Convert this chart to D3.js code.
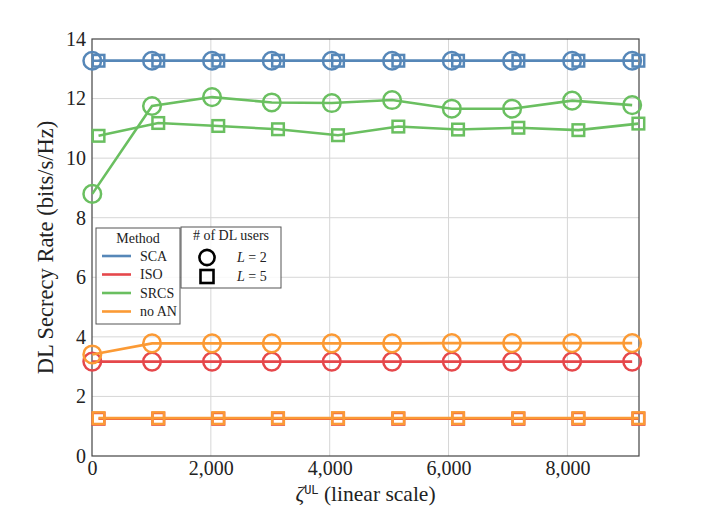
<!DOCTYPE html>
<html>
<head>
<meta charset="utf-8">
<script src="https://cdn.jsdelivr.net/npm/d3@7"></script>
<style>
  body { margin: 0; background: #fff; }
  text { font-family: "Liberation Serif", "DejaVu Serif", serif; fill: #222; }
</style>
</head>
<body>
<div id="chart"></div>
<script>
// x positions (zeta^UL) of the two marker series
const zetaL2 = [5, 1010, 2020, 3025, 4035, 5050, 6055, 7070, 8080, 9090];
const zetaL5 = [110, 1115, 2125, 3130, 4140, 5155, 6160, 7175, 8185, 9195];

const methods = ["SCA", "ISO", "SRCS", "no AN"];
const colors = ["#5687b8", "#e5474b", "#6abf60", "#fb9a35"];

// DL secrecy rate, L = 2 (circles)
const scaL2 = [13.27, 13.27, 13.27, 13.27, 13.27, 13.27, 13.27, 13.27, 13.27, 13.27];
const isoL2 = [3.17, 3.17, 3.17, 3.17, 3.17, 3.17, 3.17, 3.17, 3.17, 3.17];
const srcsL2 = [8.8, 11.75, 12.05, 11.87, 11.85, 11.95, 11.66, 11.66, 11.93, 11.78];
const noanL2 = [3.41, 3.78, 3.78, 3.78, 3.78, 3.78, 3.79, 3.79, 3.79, 3.79];

// DL secrecy rate, L = 5 (squares)
const scaL5 = [13.27, 13.27, 13.27, 13.27, 13.27, 13.27, 13.27, 13.27, 13.27, 13.27];
const isoL5 = [1.25, 1.25, 1.25, 1.25, 1.25, 1.25, 1.25, 1.25, 1.25, 1.25];
const srcsL5 = [10.75, 11.18, 11.08, 10.97, 10.77, 11.06, 10.96, 11.02, 10.94, 11.16];
const noanL5 = [1.27, 1.27, 1.27, 1.27, 1.27, 1.27, 1.27, 1.27, 1.27, 1.27];

const xTicks = [0, 2000, 4000, 6000, 8000];
const yTicks = [0, 2, 4, 6, 8, 10, 12, 14];

const seriesL2 = [scaL2, isoL2, srcsL2, noanL2];
const seriesL5 = [scaL5, isoL5, srcsL5, noanL5];

// dimensions
let dimensions = {
  width: 706,
  height: 529,
  margin: { top: 39, right: 67, bottom: 73, left: 92 },
};
dimensions.boundedWidth = dimensions.width - dimensions.margin.left - dimensions.margin.right;
dimensions.boundedHeight = dimensions.height - dimensions.margin.top - dimensions.margin.bottom;

const svg = d3.select("#chart").append("svg")
  .attr("width", dimensions.width)
  .attr("height", dimensions.height);

const bounds = svg.append("g")
  .attr("transform", `translate(${dimensions.margin.left},${dimensions.margin.top})`);

// scales
const xScale = d3.scaleLinear().domain([0, 9205]).range([0, dimensions.boundedWidth]);
const yScale = d3.scaleLinear().domain([0, 14]).range([dimensions.boundedHeight, 0]);

// grid
bounds.append("g").selectAll("line").data(xTicks.slice(1)).join("line")
  .attr("x1", d => xScale(d)).attr("x2", d => xScale(d))
  .attr("y1", 0).attr("y2", dimensions.boundedHeight)
  .attr("stroke", "#d6d6d6").attr("stroke-width", 1);
bounds.append("g").selectAll("line").data(yTicks.slice(1, -1)).join("line")
  .attr("y1", d => yScale(d)).attr("y2", d => yScale(d))
  .attr("x1", 0).attr("x2", dimensions.boundedWidth)
  .attr("stroke", "#d6d6d6").attr("stroke-width", 1);

// axes
const xAxis = bounds.append("g")
  .attr("transform", `translate(0,${dimensions.boundedHeight})`)
  .call(d3.axisBottom(xScale).tickValues(xTicks).tickFormat(d3.format(",")).tickSize(0).tickPadding(5));
const yAxis = bounds.append("g")
  .call(d3.axisLeft(yScale).tickValues(yTicks).tickSize(0).tickPadding(6));
[xAxis, yAxis].forEach(a => {
  a.select(".domain").remove();
  a.selectAll("text").attr("font-size", 20).attr("font-family", "Liberation Serif").attr("fill", "#222");
});

// frame
bounds.append("rect")
  .attr("width", dimensions.boundedWidth).attr("height", dimensions.boundedHeight)
  .attr("fill", "none").attr("stroke", "#444").attr("stroke-width", 1.2);

// data
const line = (xs) => d3.line().x((d, i) => xScale(xs[i])).y(d => yScale(d));
const marks = bounds.append("g");
methods.forEach((m, k) => {
  const c = colors[k];
  const g2 = marks.append("g");
  g2.append("path").attr("d", line(zetaL2)(seriesL2[k]))
    .attr("fill", "none").attr("stroke", c).attr("stroke-width", 2.6);
  g2.selectAll("circle").data(seriesL2[k]).join("circle")
    .attr("cx", (d, i) => xScale(zetaL2[i])).attr("cy", d => yScale(d))
    .attr("r", 8.8).attr("fill", "none").attr("stroke", c).attr("stroke-width", 2.5);
  const g5 = marks.append("g");
  g5.append("path").attr("d", line(zetaL5)(seriesL5[k]))
    .attr("fill", "none").attr("stroke", c).attr("stroke-width", 2.6);
  g5.selectAll("rect").data(seriesL5[k]).join("rect")
    .attr("x", (d, i) => xScale(zetaL5[i]) - 5.8).attr("y", d => yScale(d) - 5.8)
    .attr("width", 11.6).attr("height", 11.6)
    .attr("fill", "none").attr("stroke", c).attr("stroke-width", 2.5);
});

// axis labels
svg.append("text")
  .attr("transform", `translate(53,${dimensions.margin.top + dimensions.boundedHeight / 2}) rotate(-90)`)
  .attr("text-anchor", "middle").attr("font-size", 22.5)
  .text("DL Secrecy Rate (bits/s/Hz)");

const xl = svg.append("text")
  .attr("x", dimensions.margin.left + dimensions.boundedWidth / 2)
  .attr("y", 501).attr("text-anchor", "middle").attr("font-size", 21.5);
xl.append("tspan").attr("font-style", "italic").text("ζ");
xl.append("tspan").attr("font-family", "DejaVu Sans Mono").attr("font-size", 12).attr("dy", -7).text("UL");
xl.append("tspan").attr("dy", 7).text(" (linear scale)");

// legend: method
const leg1 = svg.append("g").attr("transform", "translate(96,228)");
leg1.append("rect").attr("width", 84).attr("height", 96)
  .attr("fill", "#fff").attr("fill-opacity", 0.85).attr("stroke", "#555").attr("stroke-width", 1);
leg1.append("text").attr("x", 42).attr("y", 15).attr("text-anchor", "middle").attr("font-size", 14).text("Method");
methods.forEach((m, k) => {
  const y = 28 + k * 18.5;
  leg1.append("line").attr("x1", 6).attr("x2", 35).attr("y1", y).attr("y2", y)
    .attr("stroke", colors[k]).attr("stroke-width", 2.6);
  leg1.append("text").attr("x", 44).attr("y", y + 4.5).attr("font-size", 14).text(m);
});

// legend: number of users
const leg2 = svg.append("g").attr("transform", "translate(181,227)");
leg2.append("rect").attr("width", 100).attr("height", 61)
  .attr("fill", "#fff").attr("fill-opacity", 0.85).attr("stroke", "#555").attr("stroke-width", 1);
leg2.append("text").attr("x", 50).attr("y", 13).attr("text-anchor", "middle").attr("font-size", 14).text("# of DL users");
leg2.append("circle").attr("cx", 26).attr("cy", 30.5).attr("r", 7.6)
  .attr("fill", "none").attr("stroke", "#000").attr("stroke-width", 2.6);
leg2.append("rect").attr("x", 19.5).attr("y", 43).attr("width", 13).attr("height", 13)
  .attr("fill", "none").attr("stroke", "#000").attr("stroke-width", 2.6);
["2", "5"].forEach((v, i) => {
  const t = leg2.append("text").attr("x", 56).attr("y", 35 + i * 18.5).attr("font-size", 14);
  t.append("tspan").attr("font-style", "italic").text("L");
  t.append("tspan").text(" = " + v);
});
</script>
</body>
</html>
